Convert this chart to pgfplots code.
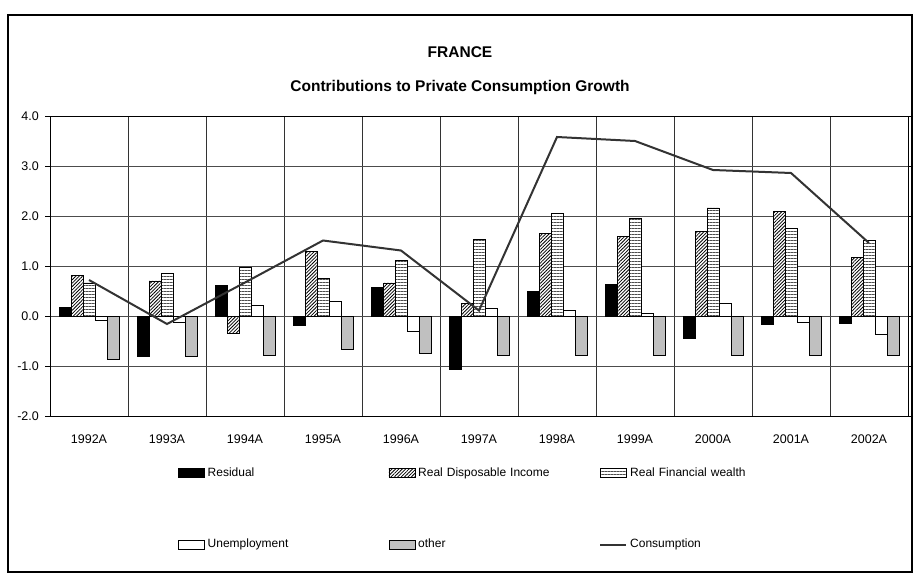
\documentclass[border=0pt]{standalone}
\usepackage{pgfplots}
\pgfplotsset{compat=1.18}
\usepackage{fontspec}
\setmainfont{Liberation Sans}
\usetikzlibrary{patterns.meta}
\definecolor{othergray}{RGB}{192,192,192}
\definecolor{linegray}{RGB}{51,51,51}
\begin{document}
\fontsize{12pt}{14pt}\selectfont
\begin{tikzpicture}
\useasboundingbox (0pt,0pt) rectangle (918pt,576pt);
\draw[line width=2pt] (8pt,4pt) rectangle (912pt,561pt);
\node[font=\bfseries\fontsize{15.5pt}{17pt}\selectfont] at (460pt,524pt) {FRANCE};
\node[font=\bfseries\fontsize{15.5pt}{17pt}\selectfont] at (460pt,489pt) {Contributions to Private Consumption Growth};
\begin{axis}[
  at={(50pt,160pt)}, anchor=south west,
  scale only axis, width=858pt, height=300pt,
  xmin=-0.5, xmax=10.5, ymin=-2, ymax=4,
  xtick={0,1,2,3,4,5,6,7,8,9,10},
  xticklabels={1992A,1993A,1994A,1995A,1996A,1997A,1998A,1999A,2000A,2001A,2002A},
  minor xtick={0.5,1.5,2.5,3.5,4.5,5.5,6.5,7.5,8.5,9.5},
  xminorgrids=true, xmajorgrids=false,
  xtick style={draw=none},
  ytick={-2,-1,0,1,2,3,4},
  ymajorgrids=true,
  tick align=outside,
  ytick style={black, line width=0.6pt},
  major tick length=5pt,
  major grid style={black!70, line width=0.6pt},
  minor grid style={black!80, line width=0.6pt},
  axis line style={black, line width=0.6pt},
  /pgf/number format/assume math mode=true,
  yticklabel={\pgfmathprintnumber[fixed,fixed zerofill,precision=1]{\tick}},
  xticklabel style={yshift=-10pt},
  yticklabel style={xshift=-2pt},
  tick label style={font=\fontsize{12.5pt}{14pt}\selectfont},
  legend columns=3,
  legend cell align=left,
  legend style={at={(axis description cs:0.1492,-0.172)}, anchor=north west,
    draw=none, fill=none, inner sep=0pt,
    nodes={inner sep=0pt, font=\fontsize{12pt}{14pt}\selectfont},
    /tikz/row sep=61pt,
    /tikz/every odd column/.append style={column sep=3pt},
    /tikz/every even column/.append style={text width=181pt}},
  barimg/.style={legend image code/.code={\draw[##1,/tikz/.cd,bar shift=0pt] (0pt,-4.5pt) rectangle (26pt,4.5pt);}},
  lineimg/.style={legend image code/.code={\draw[##1] (0pt,0pt) -- (26pt,0pt);}},
]
\addplot[ybar, bar width=12pt, bar shift=-24pt, fill=black, draw=black, line width=0.5pt, barimg]
 coordinates {(0,0.17) (1,-0.81) (2,0.61) (3,-0.19) (4,0.57) (5,-1.07) (6,0.49) (7,0.63) (8,-0.45) (9,-0.16) (10,-0.15)};
\addlegendentry{Residual}
\addplot[ybar, bar width=12pt, bar shift=-12pt, fill=white, draw=black, line width=0.5pt,
  postaction={pattern={Lines[angle=45,distance=2.4pt,line width=0.8pt]}, pattern color=black}, barimg]
 coordinates {(0,0.81) (1,0.70) (2,-0.34) (3,1.29) (4,0.66) (5,0.25) (6,1.65) (7,1.59) (8,1.69) (9,2.09) (10,1.17)};
\addlegendentry{Real Disposable Income}
\addplot[ybar, bar width=12pt, bar shift=0pt, fill=white, draw=black, line width=0.5pt,
  postaction={pattern={Lines[angle=0,distance=3pt,line width=0.6pt]}, pattern color=black!70}, barimg]
 coordinates {(0,0.66) (1,0.86) (2,0.97) (3,0.75) (4,1.12) (5,1.53) (6,2.05) (7,1.95) (8,2.16) (9,1.76) (10,1.52)};
\addlegendentry{Real Financial wealth}
\addplot[ybar, bar width=12pt, bar shift=12pt, fill=white, draw=black, line width=0.5pt, barimg]
 coordinates {(0,-0.09) (1,-0.13) (2,0.21) (3,0.29) (4,-0.31) (5,0.15) (6,0.11) (7,0.05) (8,0.26) (9,-0.13) (10,-0.36)};
\addlegendentry{Unemployment}
\addplot[ybar, bar width=12pt, bar shift=24pt, fill=othergray, draw=black, line width=0.5pt, barimg]
 coordinates {(0,-0.87) (1,-0.81) (2,-0.79) (3,-0.67) (4,-0.75) (5,-0.78) (6,-0.79) (7,-0.79) (8,-0.79) (9,-0.79) (10,-0.79)};
\addlegendentry{other}
\addplot[sharp plot, linegray, line width=2pt, mark=none, lineimg]
 coordinates {(0,0.72) (1,-0.16) (2,0.67) (3,1.51) (4,1.31) (5,0.11) (6,3.58) (7,3.50) (8,2.92) (9,2.86) (10,1.46)};
\addlegendentry{Consumption}
\end{axis}
\end{tikzpicture}
\end{document}
